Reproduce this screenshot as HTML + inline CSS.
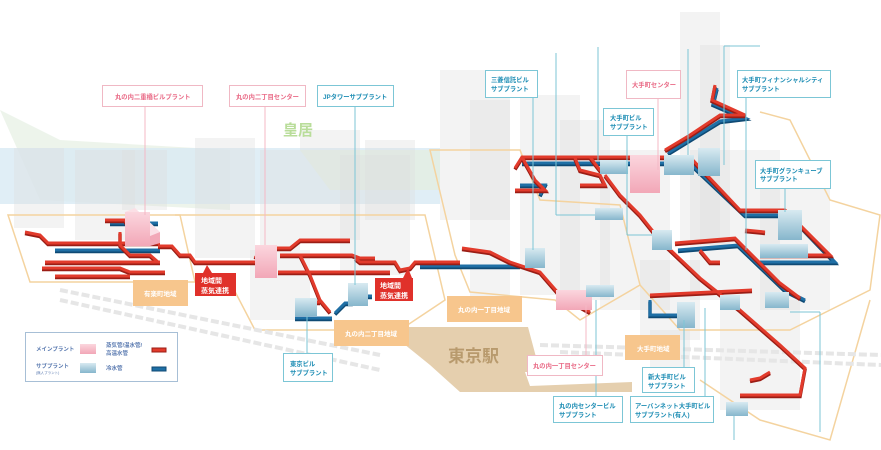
<!DOCTYPE html>
<html><head><meta charset="utf-8"><style>
html,body{margin:0;padding:0;background:#fff;}
svg{display:block;font-family:"Liberation Sans","Noto Sans CJK JP",sans-serif;}
.bx{fill:#fff;stroke-width:1;}
.pk{stroke:#f0b8c4;} .bl{stroke:#7cc6d6;}
.tp{fill:#e96a86;font-size:6.3px;font-weight:bold;}
.tb{fill:#1d8db4;font-size:6.3px;font-weight:bold;}
.ld{stroke-width:1;fill:none;}
.og{fill:#f7c68d;} .ot{fill:#fff;font-size:6.5px;font-weight:bold;}
.g{fill:#dcdcdc;opacity:.35;}
#rp polyline,#bp polyline{fill:none;}
</style></head><body>
<svg width="881" height="450" viewBox="0 0 881 450">
<defs>
<linearGradient id="gb" x1="0" y1="0" x2="0" y2="1"><stop offset="0" stop-color="#d8eaf1"/><stop offset="1" stop-color="#86b6cc"/></linearGradient>
<linearGradient id="gp" x1="0" y1="0" x2="0" y2="1"><stop offset="0" stop-color="#fbd6de"/><stop offset="1" stop-color="#f2a7b7"/></linearGradient>
</defs>
<!-- background -->
<path d="M0,110 L40,200 L230,210 L230,150 L60,140 Z" fill="#e6f0e3" opacity=".7"/>
<rect x="0" y="148" width="440" height="56" fill="#d8eaf4" opacity=".8"/>
<path d="M300,150 L440,150 L440,190 L330,190 Z" fill="#e4eee0" opacity=".7"/>
<g>
<rect class="g" x="14" y="148" width="50" height="80"/>
<rect class="g" x="75" y="150" width="60" height="90"/>
<rect class="g" x="122" y="150" width="45" height="60"/>
<rect class="g" x="195" y="138" width="60" height="120"/>
<rect class="g" x="260" y="150" width="40" height="100"/>
<rect class="g" x="300" y="130" width="60" height="110"/>
<rect class="g" x="340" y="155" width="70" height="120"/>
<rect class="g" x="365" y="140" width="50" height="80"/>
<rect class="g" x="250" y="250" width="60" height="70"/>
<rect class="g" x="440" y="70" width="70" height="150"/>
<rect class="g" x="470" y="100" width="40" height="200"/>
<rect class="g" x="520" y="95" width="60" height="200"/>
<rect class="g" x="560" y="120" width="50" height="180"/>
<rect class="g" x="600" y="150" width="70" height="160"/>
<rect class="g" x="680" y="12" width="40" height="230"/>
<rect class="g" x="700" y="45" width="30" height="200"/>
<rect class="g" x="690" y="150" width="90" height="150"/>
<rect class="g" x="760" y="180" width="70" height="130"/>
<rect class="g" x="640" y="260" width="60" height="80"/>
<rect class="g" x="720" y="300" width="80" height="110"/>
<rect class="g" x="650" y="330" width="40" height="40"/>
</g>
<!-- district outlines -->
<g fill="none" stroke="#f4d39f" stroke-width="1.5">
<path d="M8,215 L180,215 L195,282 L30,282 Z"/>
<path d="M175,215 L425,215 L445,300 L400,330 L255,330 L230,282"/>
<path d="M430,150 L520,150 L540,200 L620,205 L640,285 L580,320 L555,300 L470,292 L455,255 Z"/>
<path d="M640,285 L680,330 L790,330 L870,290 L880,215 L830,200 L790,120 L760,112"/>
<path d="M700,380 L760,420 L830,440 L870,300"/>
</g>
<g stroke="#e6e6e6" stroke-width="4" stroke-dasharray="8 3" fill="none">
<path d="M60,290 L380,355"/><path d="M60,300 L380,370"/><path d="M540,345 L881,355"/><path d="M560,352 L881,365"/>
</g>
<path d="M383,327 L528,327 L540,372 L525,372 L530,386 L632,382 L632,392 L460,392 L430,365 Z" fill="#e5cfae"/>
<text x="448" y="362" font-size="17" font-weight="bold" fill="#b89a6d">東京駅</text>
<text x="283" y="135" font-size="15" font-weight="bold" fill="#b9dd9a">皇居</text>
<!-- blue pipes -->
<g id="bp">
<polyline points="55,250 160,250"/>
<polyline points="110,223 158,223"/>
<polyline points="335,313 345,303 352,303 360,296 372,296"/>
<polyline points="295,318 332,318"/>
<polyline points="420,266 520,266"/>
<polyline points="522,163 690,163 745,215 790,215 835,262 760,262"/>
<polyline points="668,153 720,121 745,118 713,104 717,88"/>
<polyline points="678,250 738,245 785,290 805,300"/>
<polyline points="540,195 545,185 520,185"/>
<polyline points="650,300 650,315 690,315"/>
</g>
<use href="#bp" stroke="#0f4a74" stroke-width="3.5" fill="none" transform="translate(0,1.5)"/>
<use href="#bp" stroke="#1f6fa5" stroke-width="3" fill="none"/>
<!-- red pipes -->
<defs>
<g id="rp">
<polyline points="25,232 40,235 48,243 160,243"/>
<polyline points="45,262 160,262"/>
<polyline points="42,268 120,268 130,272 165,272"/>
<polyline points="55,276 130,276"/>
<polyline points="105,220 125,220 130,230 155,230"/>
<polyline points="120,232 120,245 130,255 150,255 158,262"/>
<polyline points="158,246 172,246 180,255 190,255 195,262 255,262"/>
<polyline points="255,258 262,248 290,248 300,240 350,240"/>
<polyline points="280,255 352,255 360,258 375,258"/>
<polyline points="278,272 390,272"/>
<polyline points="300,255 310,275 320,300 330,312"/>
<polyline points="298,302 320,302"/>
<polyline points="355,258 360,262 395,262 400,270 410,268 415,262 460,262"/>
<polyline points="462,248 490,252 510,262 540,272 560,295 590,312"/>
<polyline points="515,168 522,157 690,157 740,210 785,210 830,255 760,255"/>
<polyline points="522,157 535,180 545,190 515,190"/>
<polyline points="575,158 580,170 600,175 605,185 580,185"/>
<polyline points="590,157 600,170 612,170"/>
<polyline points="665,150 690,135 720,115 745,115 712,100 715,85"/>
<polyline points="605,175 620,195 640,215 660,240 700,278 740,310 780,345 805,368 800,395 740,395"/>
<polyline points="675,243 735,238 780,283 800,298"/>
<polyline points="650,295 752,290"/>
<polyline points="700,250 710,262 720,262"/>
<polyline points="750,380 760,378 770,372"/>
<polyline points="745,230 765,232"/>
</g>
</defs>
<use href="#rp" stroke="#9b1d15" stroke-width="3.5" fill="none" transform="translate(0,1.5)"/>
<use href="#rp" stroke="#e23b2c" stroke-width="3" fill="none"/>
<!-- plants -->
<g>
<polygon points="125,212 135,208 160,232 150,236" fill="#fbe0e6"/>
<rect x="125" y="212" width="25" height="34" fill="url(#gp)"/>
<polygon points="150,236 160,232 160,243 150,246" fill="#f2a9b8"/>
<rect x="255" y="245" width="22" height="33" fill="url(#gp)"/>
<rect x="630" y="155" width="30" height="38" fill="url(#gp)"/>
<rect x="556" y="290" width="36" height="20" fill="url(#gp)"/>
<rect x="295" y="298" width="22" height="18" fill="url(#gb)"/>
<rect x="348" y="283" width="20" height="23" fill="url(#gb)"/>
<rect x="525" y="248" width="20" height="20" fill="url(#gb)"/>
<rect x="586" y="285" width="28" height="12" fill="url(#gb)"/>
<rect x="595" y="208" width="28" height="12" fill="url(#gb)"/>
<rect x="600" y="160" width="28" height="14" fill="url(#gb)"/>
<rect x="664" y="155" width="30" height="20" fill="url(#gb)"/>
<rect x="698" y="148" width="22" height="28" fill="url(#gb)"/>
<rect x="652" y="230" width="20" height="20" fill="url(#gb)"/>
<rect x="778" y="210" width="24" height="30" fill="url(#gb)"/>
<rect x="760" y="244" width="48" height="14" fill="url(#gb)"/>
<rect x="720" y="295" width="20" height="15" fill="url(#gb)"/>
<rect x="765" y="292" width="24" height="16" fill="url(#gb)"/>
<rect x="677" y="302" width="18" height="26" fill="url(#gb)"/>
<rect x="726" y="402" width="22" height="14" fill="url(#gb)"/>
</g>
<g class="ld">
<line x1="145" y1="106" x2="145" y2="215" stroke="#f4b8c5"/>
<line x1="265" y1="106" x2="265" y2="245" stroke="#f4b8c5"/>
<line x1="355" y1="106" x2="355" y2="285" stroke="#7cc6d6"/>
<line x1="307" y1="316" x2="307" y2="353" stroke="#7cc6d6"/>
<line x1="533" y1="97" x2="533" y2="250" stroke="#7cc6d6"/>
<line x1="556" y1="53" x2="556" y2="215" stroke="#7cc6d6"/><line x1="556" y1="215" x2="595" y2="215" stroke="#7cc6d6"/>
<line x1="598" y1="47" x2="598" y2="160" stroke="#7cc6d6"/>
<line x1="658" y1="98" x2="658" y2="170" stroke="#f4b8c5"/>
<line x1="627" y1="135" x2="627" y2="235" stroke="#7cc6d6"/><line x1="627" y1="235" x2="652" y2="235" stroke="#7cc6d6"/>
<line x1="688" y1="49" x2="688" y2="155" stroke="#7cc6d6"/>
<line x1="724" y1="46" x2="724" y2="165" stroke="#7cc6d6"/><line x1="724" y1="46" x2="760" y2="46" stroke="#7cc6d6"/>
<line x1="746" y1="97" x2="746" y2="250" stroke="#7cc6d6"/>
<line x1="785" y1="188" x2="785" y2="212" stroke="#7cc6d6"/>
<line x1="596" y1="300" x2="596" y2="396" stroke="#7cc6d6"/>
<line x1="586" y1="305" x2="586" y2="355" stroke="#f4b8c5"/>
<line x1="684" y1="320" x2="684" y2="367" stroke="#7cc6d6"/>
<line x1="705" y1="308" x2="705" y2="396" stroke="#7cc6d6"/>
<line x1="734" y1="416" x2="734" y2="440" stroke="#7cc6d6"/>
<line x1="820" y1="312" x2="820" y2="432" stroke="#7cc6d6"/><line x1="790" y1="312" x2="820" y2="312" stroke="#7cc6d6"/>
</g>
<rect class="bx pk" x="102.5" y="85.5" width="100" height="21"/><text class="tp" x="115" y="99">丸の内二重橋ビルプラント</text>
<rect class="bx pk" x="229.5" y="85.5" width="76" height="21"/><text class="tp" x="236" y="99">丸の内二丁目センター</text>
<rect class="bx bl" x="317.5" y="85.5" width="76" height="21"/><text class="tb" x="323" y="99">JPタワーサブプラント</text>
<rect class="bx bl" x="485.5" y="70.5" width="52" height="27"/><text class="tb" x="491" y="82">三菱信託ビル</text><text class="tb" x="491" y="91">サブプラント</text>
<rect class="bx pk" x="626.5" y="70.5" width="54" height="28"/><text class="tp" x="632" y="87">大手町センター</text>
<rect class="bx bl" x="603.5" y="108.5" width="50" height="27"/><text class="tb" x="610" y="120">大手町ビル</text><text class="tb" x="610" y="129">サブプラント</text>
<rect class="bx bl" x="737.5" y="70.5" width="93" height="27"/><text class="tb" x="742" y="82">大手町フィナンシャルシティ</text><text class="tb" x="742" y="91">サブプラント</text>
<rect class="bx bl" x="755.5" y="160.5" width="75" height="28"/><text class="tb" x="760" y="173">大手町グランキューブ</text><text class="tb" x="760" y="181">サブプラント</text>
<rect class="bx bl" x="283.5" y="353.5" width="49" height="28"/><text class="tb" x="290" y="366">東京ビル</text><text class="tb" x="290" y="375">サブプラント</text>
<rect class="bx pk" x="527.5" y="355.5" width="75" height="20"/><text class="tp" x="533" y="368">丸の内一丁目センター</text>
<rect class="bx bl" x="553.5" y="396.5" width="69" height="26"/><text class="tb" x="559" y="408">丸の内センタービル</text><text class="tb" x="559" y="417">サブプラント</text>
<rect class="bx bl" x="642.5" y="367.5" width="52" height="25"/><text class="tb" x="648" y="379">新大手町ビル</text><text class="tb" x="648" y="388">サブプラント</text>
<rect class="bx bl" x="630.5" y="396.5" width="83" height="26"/><text class="tb" x="635" y="408">アーバンネット大手町ビル</text><text class="tb" x="635" y="417">サブプラント(有人)</text>
<rect class="og" x="133" y="280" width="55" height="26"/><text class="ot" x="144" y="296">有楽町地域</text>
<rect class="og" x="334" y="320" width="75" height="26"/><text class="ot" x="345" y="336">丸の内二丁目地域</text>
<rect class="og" x="447" y="296" width="75" height="26"/><text class="ot" x="458" y="312">丸の内一丁目地域</text>
<rect class="og" x="625" y="335" width="55" height="25"/><text class="ot" x="637" y="351">大手町地域</text>
<polygon points="203,273 207,265 212,273" fill="#e0312a"/>
<rect x="195" y="273" width="41" height="23" fill="#e0312a"/><text x="201" y="283" fill="#fff" font-size="7" font-weight="bold">地域間</text><text x="201" y="293" fill="#fff" font-size="7" font-weight="bold">蒸気連携</text>
<polygon points="403,278 408,268 412,278" fill="#e0312a"/>
<rect x="375" y="278" width="38" height="23" fill="#e0312a"/><text x="380" y="288" fill="#fff" font-size="7" font-weight="bold">地域間</text><text x="380" y="298" fill="#fff" font-size="7" font-weight="bold">蒸気連携</text>
<rect x="25.5" y="332.5" width="152" height="49" fill="#fff" stroke="#a7bfd6"/>
<text x="36" y="351" font-size="5.5" fill="#5a7ab0" font-weight="bold">メインプラント</text>
<rect x="80" y="344" width="16" height="10" fill="url(#gp)"/>
<text x="106" y="347" font-size="5.5" fill="#5a7ab0" font-weight="bold">蒸気管/温水管/</text>
<text x="106" y="355" font-size="5.5" fill="#5a7ab0" font-weight="bold">高温水管</text>
<rect x="152" y="348" width="14" height="4" fill="#e23b2c" stroke="#9b1d15"/>
<text x="36" y="368" font-size="5.5" fill="#5a7ab0" font-weight="bold">サブプラント</text>
<text x="36" y="374" font-size="3.5" fill="#5a7ab0">(無人プラント)</text>
<rect x="80" y="363" width="16" height="10" fill="url(#gb)"/>
<text x="106" y="370" font-size="5.5" fill="#5a7ab0" font-weight="bold">冷水管</text>
<rect x="152" y="367" width="14" height="4" fill="#1f6fa5" stroke="#0f4a74"/>
</svg>
</body></html>
